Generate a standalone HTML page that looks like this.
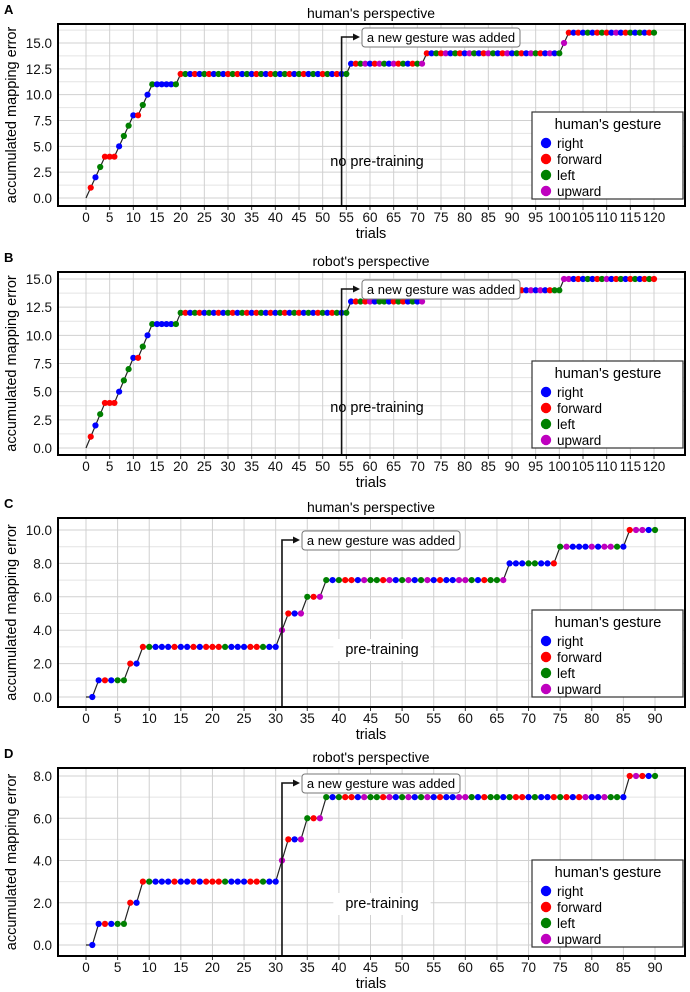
<!DOCTYPE html>
<html><head><meta charset="utf-8"><style>
html,body{margin:0;padding:0;background:#fff;}
svg{display:block;font-family:"Liberation Sans",Arial,sans-serif;}
</style></head><body>
<svg id="fig" width="690" height="992" viewBox="0 0 690 992"></svg>
<script>
// ---- data ----
const trialsA = 120, trialsC = 90;
const errA = [0,1,2,3,4,4,4,5,6,7,8,8,9,10,11,11,11,11,11,11,
 12,12,12,12,12,12,12,12,12,12,12,12,12,12,12,12,12,12,12,12,12,12,12,12,12,12,12,12,12,12,12,12,12,12,12,12,
 13,13,13,13,13,13,13,13,13,13,13,13,13,13,13,13,
 14,14,14,14,14,14,14,14,14,14,14,14,14,14,14,14,14,14,14,14,14,14,14,14,14,14,14,14,14,
 15,
 16,16,16,16,16,16,16,16,16,16,16,16,16,16,16,16,16,16,16];
const errB = [0,1,2,3,4,4,4,5,6,7,8,8,9,10,11,11,11,11,11,11,
 12,12,12,12,12,12,12,12,12,12,12,12,12,12,12,12,12,12,12,12,12,12,12,12,12,12,12,12,12,12,12,12,12,12,12,12,
 13,13,13,13,13,13,13,13,13,13,13,13,13,13,13,13,
 null,null,null,null,null,null,null,null,null,null,null,null,null,null,null,null,null,null,null,null,
 14,14,14,14,14,14,14,14,14,
 15,15,15,15,15,15,15,15,15,15,15,15,15,15,15,15,15,15,15,15];
const errC = [0,0,1,1,1,1,1,2,2,
 3,3,3,3,3,3,3,3,3,3,3,3,3,3,3,3,3,3,3,3,3,3,
 4,5,5,5,6,6,6,
 7,7,7,7,7,7,7,7,7,7,7,7,7,7,7,7,7,7,7,7,7,7,7,7,7,7,7,7,7,
 8,8,8,8,8,8,8,8,
 9,9,9,9,9,9,9,9,9,9,9,
 10,10,10,10,10];
const errD = [0,0,1,1,1,1,1,2,2,
 3,3,3,3,3,3,3,3,3,3,3,3,3,3,3,3,3,3,3,3,3,3,
 4,5,5,5,6,6,6,
 7,7,7,7,7,7,7,7,7,7,7,7,7,7,7,7,7,7,7,7,7,7,7,7,7,7,7,7,7,7,7,7,7,7,7,7,7,7,7,7,7,7,7,7,7,7,7,7,
 8,8,8,8,8];
// gesture codes per trial: b=right r=forward g=left m=upward x=none
const gestA = ("x"+"rbgrrrbggbrgb"+"gbbbbg"+"rgbrbg"+"rbgbrg"+"rbgbrg"+"brgbgr"+"bgrbgb"+"rgbrbg"
 +"brgmbrmgbmrgbrgm"+"rbgrmbgrbmgbrmgbrmbgrbmgrbmbg"+"m"+"rbrbgbrgrbmbrgbgbrg").split("");
const gestB = ("x"+"rbgrrrbggbrgb"+"gbbbbg"+"grbgrb"+"gbrbgr"+"bgrbrg"+"brbgrb"+"grbgbr"+"gbrgbg"
 +"brgrmbggbrgrbgbm"+"xxxxxxxxxxxxxxxxxxxx"+"rbmbmbrgg"+"mmbrbgbrgmbrgbrgbrgr").split("");
const gestC = ("x"+"b"+"brbgg"+"rb"+"rgbbbrbbrbrrrgbbbrrgbb"+"m"+"rbm"+"grm"
 +"gbgrrbmggrmbgmbgmbrbbmmgbrggm"+"bbbggbbr"+"gmbbbmbmmgb"+"rmmbg").split("");
const gestD = ("x"+"b"+"brbgg"+"rb"+"rgbbbrbbrbrrrgbbbrrgbb"+"m"+"rbm"+"grm"
 +"gbgrrbmggrmbgmbgmbrbbmmgbrgg"+"bgrrbgbbrgrbrmbbmg"+"gb"+"rmrbg").split("");
const xTicksA = [0,5,10,15,20,25,30,35,40,45,50,55,60,65,70,75,80,85,90,95,100,105,110,115,120];
const xTicksC = [0,5,10,15,20,25,30,35,40,45,50,55,60,65,70,75,80,85,90];
const yTicksA = [0,2.5,5,7.5,10,12.5,15];
const yTicksC = [0,2,4,6,8,10];
const yTicksD = [0,2,4,6,8];
const legendLabels = ["right","forward","left","upward"];
const legendCodes = ["b","r","g","m"];
const colorMap = {b:"#0000ff",r:"#ff0000",g:"#008000",m:"#bf00bf"};

const NS="http://www.w3.org/2000/svg";
const svg=document.getElementById('fig');
function mk(tag,attrs,parent){const e=document.createElementNS(NS,tag);for(const k in attrs)e.setAttribute(k,attrs[k]);(parent||svg).appendChild(e);return e;}

function panel(cfg){
  const g=mk('g',{});
  
  
  const L=58,R=685;
  const xs=t=>cfg.x0+(t)*(cfg.x1-cfg.x0)/cfg.xmax;
  const ys=v=>cfg.y0+(v)*(cfg.y1-cfg.y0)/cfg.ymax;
  const lt=mk('text',{x:4,y:cfg.top-10,'font-size':13,'font-weight':'bold',fill:'#000'},g);lt.textContent=cfg.letter;
  
  
  const tt=mk('text',{x:371,y:cfg.top-6,'font-size':14,'text-anchor':'middle',fill:'#000'},g);tt.textContent=cfg.title;
  
  
  // minor horizontal grid
  for(let k=0;k<cfg.yticks.length;k++){
    const a=cfg.yticks[k], b=(k+1<cfg.yticks.length)?cfg.yticks[k+1]:a+(cfg.yticks[1]-cfg.yticks[0]);
    const mv=(a+b)/2;
    const yy=ys(mv);
    if(yy<cfg.top||yy>cfg.bot) continue;
    const l=mk('line',{x1:L,x2:R,y1:yy,y2:yy,stroke:'#e4e4e4','stroke-width':1},g);
    
    
  }
  {
    const yy=ys(cfg.yticks[0]-(cfg.yticks[1]-cfg.yticks[0])/2);
    if(yy<cfg.bot){const l=mk('line',{x1:L,x2:R,y1:yy,y2:yy,stroke:'#e4e4e4','stroke-width':1},g);
    
    }
  }
  cfg.xticks.forEach(t=>{
    const l=mk('line',{x1:xs(t),x2:xs(t),y1:cfg.top,y2:cfg.bot,stroke:'#d0d0d0','stroke-width':1},g);
    
    
    const tk=mk('line',{x1:xs(t),x2:xs(t),y1:cfg.bot,y2:cfg.bot+4,stroke:'#333','stroke-width':1},g);
    
    
    const tx=mk('text',{x:xs(t),y:cfg.bot+16,'font-size':13.5,'text-anchor':'middle',fill:'#111'},g);tx.textContent=t;
    
    
  });
  cfg.yticks.forEach(v=>{
    const l=mk('line',{x1:L,x2:R,y1:ys(v),y2:ys(v),stroke:'#d0d0d0','stroke-width':1},g);
    
    
    const tx=mk('text',{x:L-6,y:ys(v)+5,'font-size':13.5,'text-anchor':'end',fill:'#111'},g);tx.textContent=v.toFixed(1);
    
    
  });
  const at=mk('text',{x:cfg.noteX,y:cfg.noteY,'font-size':14.5,'text-anchor':'middle',fill:'#000'},g);
  at.textContent=cfg.note;
  
  
  if(cfg.noteBg){const bb=at.getBBox();const r=mk('rect',{x:bb.x-12,y:bb.y-3,width:bb.width+24,height:bb.height+6,fill:'#fff'},g);g.insertBefore(r,at);
    
    }
  let d='',pen=false;
  cfg.err.forEach((v,i)=>{ if(v===null){pen=false;return;} d+=(pen?'L':'M')+xs(i)+','+ys(v)+' '; pen=true;});
  const p=mk('path',{d:d,fill:'none',stroke:'#222','stroke-width':1.2},g);
  
  
  cfg.err.forEach((v,i)=>{
    const c=cfg.gest[i];
    if(v===null||!c||c==='x')return;
    const m=mk('circle',{cx:xs(i),cy:ys(v),r:3.1,fill:colorMap[c]},g);
    
    
  });
  const ax=xs(cfg.arrowT);
  const ap=mk('path',{d:`M${ax},${cfg.bot} L${ax},${cfg.arrowY} L${cfg.boxX-4},${cfg.arrowY}`,fill:'none',stroke:'#111','stroke-width':1.6},g);
  
  
  const ah=mk('path',{d:`M${cfg.boxX-2},${cfg.arrowY} l-7,-3.5 l0,7 z`,fill:'#111'},g);
  
  
  const br=mk('rect',{x:cfg.boxX,y:cfg.arrowY-9,width:158,height:19,rx:3,fill:'#fff',stroke:'#777','stroke-width':1},g);
  
  
  const bt=mk('text',{x:cfg.boxX+79,y:cfg.arrowY+5,'font-size':13,'text-anchor':'middle',fill:'#000'},g);bt.textContent='a new gesture was added';
  
  
  const fr=mk('rect',{x:L,y:cfg.top,width:R-L,height:cfg.bot-cfg.top,fill:'none',stroke:'#000','stroke-width':2},g);
  
  
  const xt=mk('text',{x:371,y:cfg.bot+32,'font-size':14.5,'text-anchor':'middle',fill:'#000'},g);xt.textContent='trials';
  
  
  const ym=(cfg.top+cfg.bot)/2;
  const yt=mk('text',{x:0,y:0,'font-size':14.5,'text-anchor':'middle',fill:'#000',transform:`translate(16,${ym}) rotate(-90)`},g);yt.textContent='accumulated mapping error';
  
  
  const lg=mk('g',{},g);
  
  
  const lr=mk('rect',{x:532,y:cfg.legY,width:151,height:87,fill:'#fff',stroke:'#333','stroke-width':1.2},lg);
  
  
  const lh=mk('text',{x:608,y:cfg.legY+17,'font-size':14.5,'text-anchor':'middle',fill:'#000'},lg);lh.textContent="human's gesture";
  
  
  legendLabels.forEach((lab,k)=>{
    const yy=cfg.legY+31+k*16;
    const c=mk('circle',{cx:546,cy:yy,r:5.2,fill:colorMap[legendCodes[k]]},lg);
    
    
    const t=mk('text',{x:557,y:yy+5,'font-size':13.5,fill:'#000'},lg);t.textContent=lab;
    
    
  });
}

panel({letter:'A',title:"human's perspective",top:24,bot:206,x0:86,x1:654,xmax:trialsA,y0:198,y1:43,ymax:15,
  xticks:xTicksA,yticks:yTicksA,err:errA,gest:gestA,note:'no pre-training',noteX:377,noteY:166,noteBg:false,
  arrowT:54,arrowY:37,boxX:362,legY:112});
panel({letter:'B',title:"robot's perspective",top:272,bot:455,x0:86,x1:654,xmax:trialsA,y0:448,y1:279,ymax:15,
  xticks:xTicksA,yticks:yTicksA,err:errB,gest:gestB,note:'no pre-training',noteX:377,noteY:412,noteBg:false,
  arrowT:54,arrowY:289,boxX:362,legY:361});
panel({letter:'C',title:"human's perspective",top:518,bot:707,x0:86,x1:655,xmax:trialsC,y0:697,y1:530,ymax:10,
  xticks:xTicksC,yticks:yTicksC,err:errC,gest:gestC,note:'pre-training',noteX:382,noteY:654,noteBg:true,
  arrowT:31,arrowY:540,boxX:302,legY:610});
panel({letter:'D',title:"robot's perspective",top:768,bot:956,x0:86,x1:655,xmax:trialsC,y0:945,y1:776,ymax:8,
  xticks:xTicksC,yticks:yTicksD,err:errD,gest:gestD,note:'pre-training',noteX:382,noteY:908,noteBg:true,
  arrowT:31,arrowY:783,boxX:302,legY:860});
</script>
</body></html>
